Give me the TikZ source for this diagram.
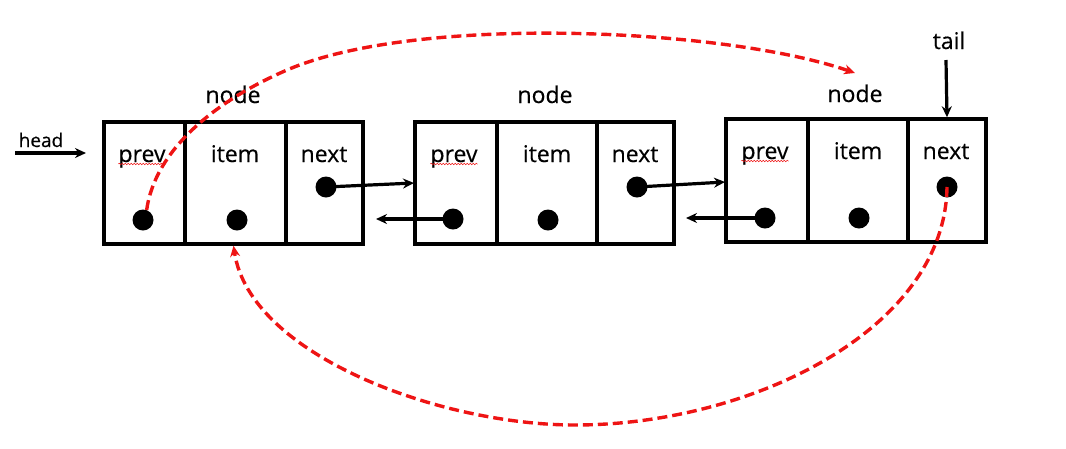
\documentclass[tikz,border=0pt]{standalone}
\usepackage{fontspec}
\setmainfont{Open Sans}[FakeBold=0.4]
\usetikzlibrary{arrows.meta,decorations.pathmorphing}
\definecolor{redline}{RGB}{238,20,20}
\begin{document}
\begin{tikzpicture}[x=1pt,y=-1pt,
  cell/.style={draw,line width=3.5pt,rectangle,inner sep=0pt},
  lbl/.style={inner sep=0pt,anchor=base,font=\fontsize{23}{26}\selectfont},
  dotn/.style={circle,fill=black,inner sep=0pt,minimum size=21pt},
  arr/.style={line width=3.2pt,-{Stealth[length=11pt,width=10pt]}},
  redarr/.style={redline,line width=3.4pt,dash pattern=on 10pt off 5pt,-{Stealth[length=11pt,width=10pt]}},
  squig/.style={redline,line width=0.5pt,decorate,decoration={snake,amplitude=0.7pt,segment length=3pt}}
]
\useasboundingbox (0,0) rectangle (1066,448);
% node 1 cells
\node[cell,minimum width=81pt,minimum height=122pt] (c1p) at (144.5,183) {};
\node[cell,minimum width=101pt,minimum height=122pt] (c1i) at (235.5,183) {};
\node[cell,minimum width=77pt,minimum height=122pt] (c1n) at (324.5,183) {};
% node 2 cells
\node[cell,minimum width=82pt,minimum height=122pt] (c2p) at (456,183) {};
\node[cell,minimum width=100pt,minimum height=122pt] (c2i) at (547,183) {};
\node[cell,minimum width=77pt,minimum height=122pt] (c2n) at (635.5,183) {};
% node 3 cells
\node[cell,minimum width=82pt,minimum height=123pt] (c3p) at (767,180.5) {};
\node[cell,minimum width=100pt,minimum height=123pt] (c3i) at (858,180.5) {};
\node[cell,minimum width=78pt,minimum height=123pt] (c3n) at (947,180.5) {};
% labels
\node[lbl] (t1) at (233,103) {node};
\node[lbl] (t2) at (545,103) {node};
\node[lbl] (t3) at (855,102) {node};
\node[lbl] (tail) at (949,49) {tail};
\node[lbl,font=\fontsize{19}{22}\selectfont] (head) at (41,147) {head};
\node[lbl] (p1) at (142,162) {prev};
\node[lbl] (i1) at (235,162) {item};
\node[lbl] (n1) at (324,162) {next};
\node[lbl] (p2) at (454,162) {prev};
\node[lbl] (i2) at (547,162) {item};
\node[lbl] (n2) at (635,162) {next};
\node[lbl] (p3) at (765,159) {prev};
\node[lbl] (i3) at (858,159) {item};
\node[lbl] (n3) at (946,159) {next};
% spell-check squiggles
\draw[squig] ([yshift=-2pt]p1.base west) -- ([yshift=-2pt]p1.base east);
\draw[squig] ([yshift=-2pt]p2.base west) -- ([yshift=-2pt]p2.base east);
\draw[squig] ([yshift=-2pt]p3.base west) -- ([yshift=-2pt]p3.base east);
% dots
\node[dotn] (d1p) at (143,220) {};
\node[dotn] (d1i) at (237,220) {};
\node[dotn] (d1n) at (326,187) {};
\node[dotn] (d2p) at (453,219) {};
\node[dotn] (d2i) at (548,220) {};
\node[dotn] (d2n) at (637,187) {};
\node[dotn] (d3p) at (765,218) {};
\node[dotn] (d3i) at (859,218) {};
\node[dotn] (d3n) at (947,187) {};
% coordinates for free ends
\coordinate (headstart) at (15,153);
\coordinate (headend) at (86,153);
\coordinate (tailstart) at (946,60);
\coordinate (in2) at (414,183);
\coordinate (in3) at (725,182);
\coordinate (back1) at (376,219);
\coordinate (back2) at (686,218);
\coordinate (topend) at (855,73);
\coordinate (topjoin) at (287,70);
\coordinate (botlow) at (575,425);
% black arrows
\draw[arr] (headstart) -- (headend);
\draw[arr] (tailstart) -- (c3n.north);
\draw[arr] (d1n.center) -- (in2);
\draw[arr] (d2n.center) -- (in3);
\draw[arr] (d2p.center) -- (back1);
\draw[arr] (d3p.center) -- (back2);
% red dashed curves
\draw[redarr] (d1p.70) .. controls (155,150) and (215,101) .. (topjoin)
   .. controls (417,14) and (725,28) .. (topend);
\draw[redarr] (d3n.center) .. controls (945,330) and (750,425) .. (botlow)
   .. controls (440,425) and (250,355) .. ([xshift=-2pt]c1i.south);
\end{tikzpicture}
\end{document}
